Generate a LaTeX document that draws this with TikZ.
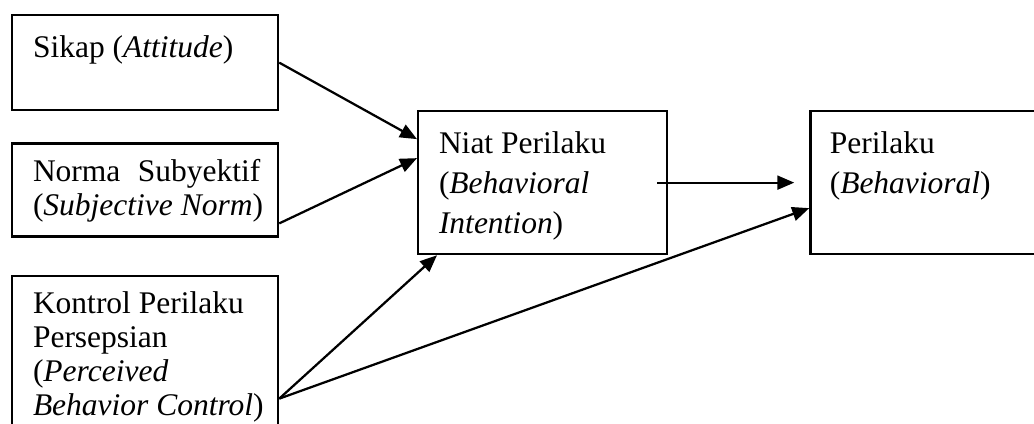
\documentclass[tikz,border=0pt]{standalone}
\usepackage{fontspec}
\setmainfont{Liberation Serif}
\usetikzlibrary{positioning}
\usetikzlibrary{arrows.meta}

\begin{document}
\begin{tikzpicture}[x=0.4pt,y=-0.4pt,
  box/.style={draw,line width=0.9pt,rectangle,minimum width=106.4pt,inner sep=0pt,anchor=north west},
  txt/.style={anchor=base west,inner sep=0pt,align=left,font=\fontsize{12.6}{13.6}\selectfont},
  arr/.style={-{Triangle[length=6.8pt,width=5.6pt]},line width=0.9pt}]
  \useasboundingbox (0,0) rectangle (1034,423);
  \node[box,minimum height=38pt] (A) at (11,14) {};
  \node[box,minimum height=37.2pt,below=12.4pt of A] (B) {};
  \node[box,minimum height=63.2pt,below=14.8pt of B] (C) {};
  \node[box,minimum width=99.6pt,minimum height=57.2pt] (D) at (417,110) {};
  \node[box,minimum width=90.4pt,minimum height=57.2pt,right=56.4pt of D] (E) {};
  \node[txt] (a) at ([shift={(8.6pt,-17.2pt)}]A.north west) {Sikap (\textit{Attitude})};
  \node[txt] (b) at ([shift={(8.6pt,-29.2pt)}]B.north west) {Norma\hspace{7pt}Subyektif\\(\textit{Subjective Norm})};
  \node[txt] (c) at ([shift={(8.6pt,-56.4pt)}]C.north west) {Kontrol Perilaku\\Persepsian\\(\textit{Perceived}\\\textit{Behavior Control})};
  \node[txt,font=\fontsize{12.6}{16}\selectfont] (d) at ([shift={(8.6pt,-49.2pt)}]D.north west) {Niat Perilaku\\(\textit{Behavioral}\\\textit{Intention})};
  \node[txt,font=\fontsize{12.6}{16}\selectfont] (e) at ([shift={(8pt,-33.2pt)}]E.north west) {Perilaku\\(\textit{Behavioral})};
  \draw[arr](A.east)--([yshift=17.4pt]D.west);
  \draw[arr]([yshift=-13.4pt]B.east)--([yshift=9.8pt]D.west);
  \draw[arr]([yshift=-17.6pt]C.east)--([xshift=8pt]D.south west);
  \draw[arr]([yshift=-17.6pt]C.east)--([yshift=-10.2pt]E.west);
  \draw[arr]([xshift=-4.4pt]D.east)--([xshift=-6pt]E.west);
\end{tikzpicture}
\end{document}
